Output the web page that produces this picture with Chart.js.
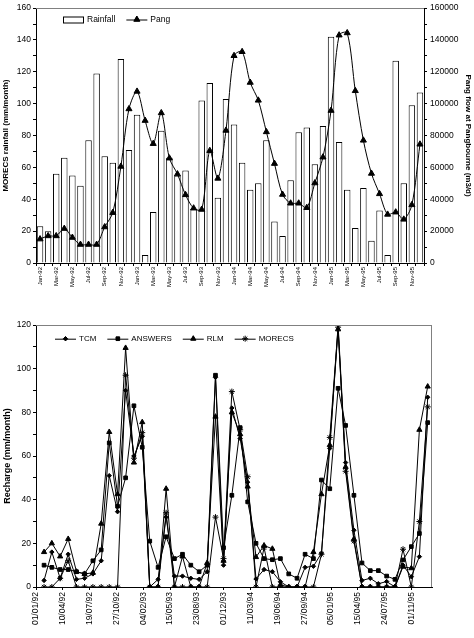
<!DOCTYPE html>
<html><head><meta charset="utf-8">
<script src="https://cdn.jsdelivr.net/npm/chart.js@4.4.1/dist/chart.umd.min.js"></script>
<style>
html,body{margin:0;padding:0;background:#fff;}
#c1{position:absolute;left:0;top:0;}
#c2{position:absolute;left:0;top:310px;}
</style></head><body>
<canvas id="c1" width="474" height="300"></canvas>
<canvas id="c2" width="474" height="328"></canvas>
<script>
// ---------- top chart data ----------
const months = ['Jan-92','Feb-92','Mar-92','Apr-92','May-92','Jun-92','Jul-92','Aug-92','Sep-92','Oct-92','Nov-92','Dec-92',
  'Jan-93','Feb-93','Mar-93','Apr-93','May-93','Jun-93','Jul-93','Aug-93','Sep-93','Oct-93','Nov-93','Dec-93',
  'Jan-94','Feb-94','Mar-94','Apr-94','May-94','Jun-94','Jul-94','Aug-94','Sep-94','Oct-94','Nov-94','Dec-94',
  'Jan-95','Feb-95','Mar-95','Apr-95','May-95','Jun-95','Jul-95','Aug-95','Sep-95','Oct-95','Nov-95','Dec-95'];
const topTickLabels = ['Jan-92','Mar-92','May-92','Jul-92','Sep-92','Nov-92','Jan-93','Mar-93','May-93','Jul-93','Sep-93','Nov-93',
  'Jan-94','Mar-94','May-94','Jul-94','Sep-94','Nov-94','Jan-95','Mar-95','May-95','Jul-95','Sep-95','Nov-95'];
const rainfall = [23,20,56,66,55,48.5,77,119,67,63,128,71,
  93,5,32,83,66,55,58,34,102,113,41,103,
  87,63,46,50,77,26,17,52,82,85,62,86,
  142,76,46,22,47,14,33,5,127,50,99,107];
const pang = [15000,17000,17000,21600,16000,11600,11600,11600,22600,31600,60600,96700,
  107700,89400,74900,94200,65800,55800,42800,34400,33600,70500,53100,83200,
  130100,132600,113300,102100,82300,62400,43000,37500,37500,34700,50200,66400,
  95700,143000,144400,108100,77000,56200,43400,30500,31900,27400,36500,74500];

// ---------- bottom chart data ----------
const dates = ['31/01/92','29/02/92','31/03/92','30/04/92','31/05/92','30/06/92','31/07/92','31/08/92','30/09/92','31/10/92','30/11/92','31/12/92',
  '31/01/93','28/02/93','31/03/93','30/04/93','31/05/93','30/06/93','31/07/93','31/08/93','30/09/93','31/10/93','30/11/93','31/12/93',
  '31/01/94','28/02/94','31/03/94','30/04/94','31/05/94','30/06/94','31/07/94','31/08/94','30/09/94','31/10/94','30/11/94','31/12/94',
  '31/01/95','28/02/95','31/03/95','30/04/95','31/05/95','30/06/95','31/07/95','31/08/95','30/09/95','31/10/95','30/11/95','31/12/95'];
const tcm = [3,16,4,15,3.5,4,6,12,51,34.5,90,60,
  69,0,3.5,32,5,5,4,3.5,7,96,10,82,
  68,48,3.7,8,7,2.4,0,0,9,9.5,15.5,63.5,
  120,57,26,3,4,1.5,2.5,0,10,4.7,13.9,86.9];
const answers = [10,9,8,8,7,6,12,17,66,37,50,83,
  64,21,9,23,13,15,10,7,10,97,18,42,
  73,39,20,13,12.5,13,6,4,15,13,49,45,
  91,74,42,11,7.5,7.5,5,3.5,12.4,18.5,24.5,75.3];
const rlm = [16,20,14,22,7,6,6.5,29,71,42.5,109.5,57,
  75.5,0,0,45,0,14,0,0,11,78,12,80,
  70,46,13.7,19,17.5,1,0,0,0,16,42.5,65,
  118,55,22,0,0,0,0,0,9.3,8.6,72,91.8];
const morecs = [0,0,4,12,0,0,0,0,0,0,97,59,
  70.7,0,0,34,0,0,0,0,0,32,13,89.5,
  72,50.5,0,18,0,0,0,0,0,0,15,68.5,
  119,53,21,0,0,0,0,0,17.3,0,30,82.5];
const bottomTickLabels = ['01/01/92','10/04/92','19/07/92','27/10/92','04/02/93','15/05/93','23/08/93','01/12/93',
  '11/03/94','19/06/94','27/09/94','05/01/95','15/04/95','24/07/95','01/11/95'];

// ---------- helpers ----------
const FONT = "'Liberation Sans', Arial, Helvetica, sans-serif";
Chart.defaults.font.family = FONT;
Chart.defaults.color = '#000';
const DAY0 = Date.UTC(1992,0,1);
function dayNum(s){ const p=s.split('/'); return Math.round((Date.UTC(1900+ +p[2], +p[1]-1, +p[0]) - DAY0)/86400000); }

function framePlugin(sides){
  return {id:'frame', afterDraw(chart){
    const {ctx, chartArea:a} = chart;
    ctx.save(); ctx.strokeStyle='#808080'; ctx.lineWidth=1; ctx.beginPath();
    if (sides.indexOf('top')>=0){ ctx.moveTo(a.left, Math.round(a.top)+0.5); ctx.lineTo(a.right, Math.round(a.top)+0.5); }
    if (sides.indexOf('right')>=0){ ctx.moveTo(Math.round(a.right)-0.5, a.top); ctx.lineTo(Math.round(a.right)-0.5, a.bottom); }
    ctx.stroke(); ctx.restore();
  }};
}
function legendPlugin(items, x0, yc, fontSize, gap){
  return {id:'customLegend', afterDraw(chart){
    const ctx = chart.ctx; ctx.save();
    ctx.font = fontSize + 'px ' + FONT; ctx.textBaseline='middle'; ctx.fillStyle='#000';
    let x = x0;
    items.forEach(it=>{
      ctx.strokeStyle='#000'; ctx.lineWidth=1;
      if (it.kind==='box'){
        ctx.fillStyle='#fff'; ctx.fillRect(x, yc-3, 21, 6);
        ctx.strokeRect(x+0.5, yc-3+0.5, 20, 6);
      } else {
        ctx.beginPath(); ctx.moveTo(x, yc+0.5); ctx.lineTo(x+21, yc+0.5); ctx.stroke();
        ctx.fillStyle='#000';
        Chart.helpers.drawPoint(ctx, {pointStyle:it.pointStyle, radius:it.radius, rotation:0, borderWidth:1}, x+10.5, yc);
        ctx.fill(); 
      }
      x += 21 + 3;
      ctx.fillStyle='#000';
      ctx.fillText(it.text, x, yc+0.5);
      x += ctx.measureText(it.text).width + gap;
    });
    ctx.restore();
  }};
}

// ---------- top chart ----------
new Chart(document.getElementById('c1'), {
  data: {
    labels: months,
    datasets: [
      {type:'line', label:'Pang', data:pang, yAxisID:'y2', order:0,
       borderColor:'#000', borderWidth:1, tension:0.3,
       pointStyle:'triangle', pointRadius:3.5, pointBackgroundColor:'#000', pointBorderColor:'#000', pointBorderWidth:1},
      {type:'bar', label:'Rainfall', data:rainfall, yAxisID:'y', order:1,
       backgroundColor:'#fff', borderColor:'#000', borderWidth:1,
       categoryPercentage:1, barPercentage:0.8}
    ]
  },
  options: {
    responsive:false, devicePixelRatio:1, animation:false, events:[],
    layout:{padding:{top:6, left:0, right:0, bottom:0}},
    plugins:{legend:{display:false}, tooltip:{enabled:false}},
    scales:{
      x:{ type:'category', offset:true,
        grid:{display:true, drawOnChartArea:false, drawTicks:true, tickLength:3, color:'#000', offset:true},
        border:{color:'#000'},
        ticks:{autoSkip:false, minRotation:90, maxRotation:90, padding:1, font:{size:6},
          callback:(v,i)=> (i%2===0 ? topTickLabels[i/2] : '')},
        afterFit:(s)=>{ s.height = 37; } },
      y:{ position:'left', min:0, max:160,
        grid:{drawOnChartArea:false, tickLength:3, color:'#000'}, border:{color:'#000'},
        ticks:{stepSize:10, padding:2, font:{size:8.5}, callback:(v)=> (v%20===0 ? String(v) : '')},
        title:{display:true, text:'MORECS rainfall (mm/month)', font:{size:8, weight:'bold'}, padding:{top:1,bottom:0}},
        afterFit:(s)=>{ s.width = 36; } },
      y2:{ position:'right', min:0, max:160000,
        grid:{drawOnChartArea:false, tickLength:3, color:'#000'}, border:{color:'#000'},
        ticks:{stepSize:10000, padding:3, font:{size:8.5}, callback:(v)=> (v%20000===0 ? String(v) : '')},
        title:{display:true, text:'Pang flow at Pangbourne (m3/d)', font:{size:8, weight:'bold'}, padding:{top:1,bottom:0}},
        afterFit:(s)=>{ s.width = 50; } }
    }
  },
  plugins:[framePlugin(['top']),
    legendPlugin([{text:'Rainfall', kind:'box'},{text:'Pang', kind:'line', pointStyle:'triangle', radius:3.5}], 63, 19.5, 8.5, 11)]
});

// ---------- bottom chart ----------
function series(vals){ return vals.map((v,i)=>({x:dayNum(dates[i]), y:v})); }
const common = {borderColor:'#000', borderWidth:1, tension:0, pointBackgroundColor:'#000', pointBorderColor:'#000', pointBorderWidth:1};
new Chart(document.getElementById('c2'), {
  type:'line',
  data:{ datasets:[
    Object.assign({label:'TCM', data:series(tcm), pointStyle:'rectRot', pointRadius:2.2}, common),
    Object.assign({label:'ANSWERS', data:series(answers), pointStyle:'rect', pointRadius:2.6}, common),
    Object.assign({label:'RLM', data:series(rlm), pointStyle:'triangle', pointRadius:3}, common),
    Object.assign({label:'MORECS', data:series(morecs), pointStyle:'star', pointRadius:3}, common)
  ]},
  options:{
    responsive:false, devicePixelRatio:1, animation:false, events:[],
    layout:{padding:{top:15, right:42, left:0, bottom:0}},
    plugins:{legend:{display:false}, tooltip:{enabled:false}},
    scales:{
      x:{ type:'linear', min:0, max:1476,
        grid:{drawOnChartArea:false, tickLength:3, color:'#000'}, border:{color:'#000'},
        afterBuildTicks:(s)=>{ s.ticks = bottomTickLabels.map(l=>({value:dayNum(l)})); },
        ticks:{autoSkip:false, minRotation:90, maxRotation:90, padding:2, font:{size:8.5},
          callback:(v,i)=> bottomTickLabels[i]},
        afterFit:(s)=>{ s.height = 51; } },
      y:{ min:0, max:120,
        grid:{drawOnChartArea:false, tickLength:3, color:'#000'}, border:{color:'#000'},
        ticks:{stepSize:10, padding:2, font:{size:8.5}, callback:(v)=> (v%20===0 ? String(v) : '')},
        title:{display:true, text:'Recharge (mm/month)', font:{size:9, weight:'bold'}, padding:{top:2,bottom:0}},
        afterFit:(s)=>{ s.width = 36; } }
    }
  },
  plugins:[framePlugin(['top','right']),
    legendPlugin([{text:'TCM', kind:'line', pointStyle:'rectRot', radius:2.2},
                  {text:'ANSWERS', kind:'line', pointStyle:'rect', radius:2.6},
                  {text:'RLM', kind:'line', pointStyle:'triangle', radius:3},
                  {text:'MORECS', kind:'line', pointStyle:'star', radius:3}], 55, 28.7, 8, 11)]
});
</script>
</body></html>
